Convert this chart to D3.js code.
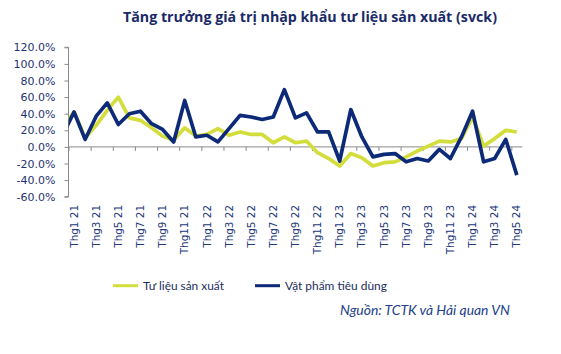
<!DOCTYPE html>
<html><head><meta charset="utf-8">
<script src="https://cdn.jsdelivr.net/npm/d3@7/dist/d3.min.js"></script>
<style>
body{margin:0;background:#fff;}
svg{display:block;}
</style></head>
<body><svg id="c" width="561" height="354"></svg>
<script>
// Months: first entry (Thg12 20) lies left of the plot and is clipped
const months = ["Thg12 20",
 "Thg1 21","Thg2 21","Thg3 21","Thg4 21","Thg5 21","Thg6 21","Thg7 21","Thg8 21","Thg9 21","Thg10 21","Thg11 21","Thg12 21",
 "Thg1 22","Thg2 22","Thg3 22","Thg4 22","Thg5 22","Thg6 22","Thg7 22","Thg8 22","Thg9 22","Thg10 22","Thg11 22","Thg12 22",
 "Thg1 23","Thg2 23","Thg3 23","Thg4 23","Thg5 23","Thg6 23","Thg7 23","Thg8 23","Thg9 23","Thg10 23","Thg11 23","Thg12 23",
 "Thg1 24","Thg2 24","Thg3 24","Thg4 24","Thg5 24"];
const tickLabels = ["Thg1 21","Thg3 21","Thg5 21","Thg7 21","Thg9 21","Thg11 21","Thg1 22","Thg3 22","Thg5 22","Thg7 22","Thg9 22","Thg11 22",
 "Thg1 23","Thg3 23","Thg5 23","Thg7 23","Thg9 23","Thg11 23","Thg1 24","Thg3 24","Thg5 24"];
const tuLieuSanXuat = [24,
 42,11,26,44,60,35,32,23,13,8,23,13,
 15,22,14,18,15,15,5,12,5,7,-7,-14,
 -23,-8,-13,-23,-19,-18,-12,-5,1,7,6,10,
 36,1,10,20,18];
const vatPhamTieuDung = [15,
 42,9,37,53,27,40,43,28,21,6,56,12,
 14,6,22,38,36,33,36,69,35,41,18,18,
 -17,45,12,-12,-9,-8,-18,-14,-17,-3,-14,12,
 43,-18,-14,9,-34];
const yTicks = [-60,-40,-20,0,20,40,60,80,100,120];
const seriesNames = ["Tư liệu sản xuất","Vật phẩm tiêu dùng"];
const colors = ["#d3de3c","#0c2a78"];

const svg = d3.select("#c");
const axisX0 = 68.5, step = 11.07;
const x = d3.scaleBand().domain(months).range([axisX0 - step, axisX0 + step*41]).padding(0);
const y = d3.scaleLinear().domain([-60,120]).range([196.7,47.3]);
const cx = m => x(m) + x.bandwidth()/2;

function fit(sel, w){
  sel.each(function(){
    const fs = parseFloat(this.getAttribute("font-size"));
    const len = this.getComputedTextLength();
    this.setAttribute("font-size", (fs*w/len).toFixed(2));
  });
}

// Title
svg.append("text").attr("x",123).attr("y",22).attr("font-family","'Open Sans', Lato, sans-serif")
  .attr("font-weight","bold").attr("font-size",16).attr("fill","#1a2a68")
  .text("Tăng trưởng giá trị nhập khẩu tư liệu sản xuất (svck)").call(fit,374);

// Y axis
const yAxis = svg.append("g").attr("transform",`translate(${axisX0},0)`)
  .call(d3.axisLeft(y).tickValues(yTicks).tickSize(4).tickPadding(9).tickFormat(d=>d.toFixed(1)+"%"));
yAxis.selectAll("path,line").attr("stroke","#8a8a8a");
yAxis.select(".domain").attr("d",`M-4,${y(-60)}H0V${y(120)}H-4`);
yAxis.selectAll("text").attr("font-family","'DejaVu Sans', Verdana, sans-serif").attr("font-size",11).attr("fill","#1f3273");

// X axis line and ticks at category boundaries
const bx = d3.scaleLinear().domain([0,41]).range([axisX0, axisX0+step*41]);
const xAxis = svg.append("g").attr("transform",`translate(0,${y(0)})`)
  .call(d3.axisBottom(bx).tickValues(d3.range(0,41,2)).tickSize(4).tickFormat(""));
xAxis.selectAll("path,line").attr("stroke","#8a8a8a");
xAxis.select(".domain").attr("d",`M${axisX0},0H${axisX0+step*41}`);

// X labels
svg.append("g").selectAll("text").data(tickLabels).join("text")
  .attr("transform",d=>`translate(${cx(d)},205) rotate(-90)`)
  .attr("text-anchor","end").attr("dy","0.35em")
  .attr("font-family","'DejaVu Sans', Verdana, sans-serif").attr("font-size",10.4).attr("fill","#23387a")
  .text(d=>d);

// Lines
svg.append("clipPath").attr("id","pc").append("rect")
  .attr("x",axisX0).attr("y",0).attr("width",step*41+10).attr("height",354);
const line = d3.line().x((d,i)=>cx(months[i])).y(d=>y(d));
const lg = svg.append("g").attr("clip-path","url(#pc)");
[tuLieuSanXuat, vatPhamTieuDung].forEach((s,k)=>{
  lg.append("path").attr("d",line(s)).attr("fill","none").attr("stroke",colors[k])
    .attr("stroke-width",3.7).attr("stroke-linejoin","round");
});

// Legend
const legX = [113,255], legText = [81,102];
seriesNames.forEach((n,k)=>{
  svg.append("line").attr("x1",legX[k]).attr("x2",legX[k]+25).attr("y1",285.7).attr("y2",285.7)
    .attr("stroke",colors[k]).attr("stroke-width",3);
  svg.append("text").attr("x",legX[k]+30).attr("y",290).attr("font-family","Lato, 'Open Sans', sans-serif")
    .attr("font-size",12.5).attr("fill","#1b2c5e").text(n).call(fit,legText[k]);
});

// Source
svg.append("text").attr("x",340).attr("y",315).attr("font-family","Lato, 'Open Sans', sans-serif")
  .attr("font-style","italic").attr("font-size",13).attr("fill","#213e8c")
  .text("Nguồn: TCTK và Hải quan VN").call(fit,170);
</script></body></html>
